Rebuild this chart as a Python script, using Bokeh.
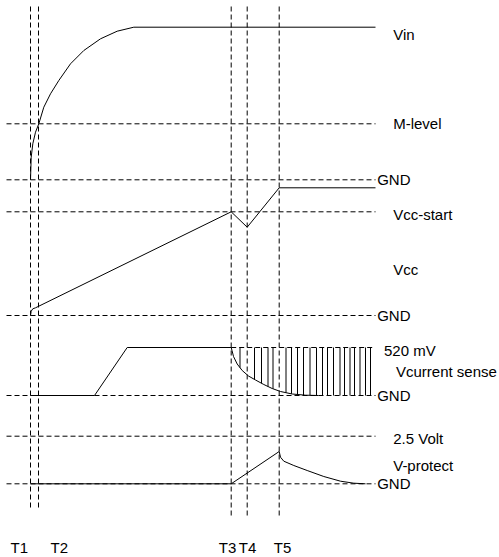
from bokeh.plotting import figure
from bokeh.models import Range1d, ColumnDataSource
from bokeh.core.properties import value
from bokeh.embed import file_html
from bokeh.resources import INLINE
import numpy as np

# Time axis (arbitrary units, T1 = 0) and vertical level (arbitrary units)
marker_names = ["T1", "T2", "T3", "T4", "T5"]
marker_t = [0, 8, 200.7, 216.7, 248.7]
marker_top = [544, 544, 546, 546, 546]
marker_bottom = [42, 42, 34, 34, 34]
marker_label_t = [-20, 20, 188.3, 208.3, 243.3]
marker_label_level = 2.5

# Reference levels (dashed)
ref_names = ["M-level", "GND", "Vcc-start", "GND", "520 mV", "GND", "2.5 Volt", "GND"]
ref_level = [425.7, 369.7, 337.7, 234, 202, 154, 113.3, 65.7]
ref_start = [-24, -24, -24, -24, 136.7, -24, -24, -24]
ref_end = [345, 345, 345, 345, 343, 345, 345, 345]

# Vin trace
vin_t = [0, 0.7, 2.3, 5, 8.3, 13.3, 20, 28.3, 40, 53.3, 70, 86.7, 103.3, 345]
vin_level = [369.7, 392.3, 405.7, 417.3, 425.7, 442.3, 455.7, 469, 485.7, 499,
             510.7, 518.3, 522.3, 522.3]

# Vcc trace
vcc_t = [0, 0.7, 2.3, 5, 200.7, 216.7, 248.7, 345]
vcc_level = [234, 238.3, 240.7, 241.7, 337.7, 322.3, 361.7, 361.7]

# Vcurrent sense trace
cs_t = [0, 64, 96.7, 200.7, 201.5, 203, 206.7, 211.7, 218, 225, 233.3, 241.7,
        250, 261.7, 275, 288]
cs_level = [154, 154, 202, 202, 199, 193, 185.5, 179, 173.5, 169.5, 165, 161,
            158, 155.5, 154.3, 154]
hatch_t = [209.5, 224, 231, 237.5, 242.5, 255.5, 261, 267, 273, 279.5, 286, 292,
           297, 303, 309.5, 314, 319.5, 324, 329.5, 335, 340]
hatch_top = 202
cs_gnd = 154

# V-protect trace
vp_t = [0, 200.7, 248.7, 250, 253.3, 263.3, 276.7, 293.3, 310, 323.3, 335]
vp_level = [65.7, 65.7, 98, 92.3, 88.3, 84, 79, 73, 68.3, 66.3, 65.7]

# Right-hand labels
label_text = ["Vin", "M-level", "GND", "Vcc-start", "Vcc", "GND", "520 mV",
              "Vcurrent sense", "GND", "2.5 Volt", "V-protect", "GND"]
label_t = [362.7, 362.7, 346.7, 362.7, 362.7, 346.7, 353.5, 365.5, 346.7,
           362.7, 362.7, 346.7]
label_level = [515, 426, 370, 335.3, 280, 234, 199, 178, 154, 111, 84, 66.5]

FONT = value("Liberation Sans")
DASH = "5 3"

p = figure(width=499, height=557, output_backend="svg", toolbar_location=None,
           x_range=Range1d(-30, 469), y_range=Range1d(-8, 549),
           x_axis_location=None, y_axis_location=None, min_border=0)
p.grid.visible = False
p.outline_line_color = None
p.background_fill_color = "white"
p.border_fill_color = "white"

# dashed horizontal reference lines
p.segment(x0=ref_start, y0=ref_level, x1=ref_end, y1=ref_level,
          line_color="black", line_width=1, line_dash=DASH)
# dashed vertical time markers
p.segment(x0=marker_t, y0=marker_bottom, x1=marker_t, y1=marker_top,
          line_color="black", line_width=1, line_dash=DASH)

# traces
for xs, ys in [(vin_t, vin_level), (vcc_t, vcc_level), (cs_t, cs_level), (vp_t, vp_level)]:
    p.line(xs, ys, line_color="black", line_width=1)

# hatch lines in current sense area
decay_t = cs_t[3:]
decay_level = cs_level[3:]
hatch_bottom = np.interp(hatch_t, decay_t, decay_level, right=cs_gnd)
p.segment(x0=hatch_t, y0=[hatch_top] * len(hatch_t), x1=hatch_t, y1=list(hatch_bottom),
          line_color="black", line_width=1)

# labels
src = ColumnDataSource(dict(x=label_t, y=label_level, text=label_text))
p.text(x="x", y="y", text="text", source=src, text_font=FONT,
       text_font_size="15px", text_align="left", text_baseline="middle",
       text_color="black")
src2 = ColumnDataSource(dict(x=marker_label_t, y=[marker_label_level] * 5, text=marker_names))
p.text(x="x", y="y", text="text", source=src2, text_font=FONT,
       text_font_size="15px", text_align="left", text_baseline="middle",
       text_color="black")

open("out.html", "w").write(file_html(p, INLINE))
